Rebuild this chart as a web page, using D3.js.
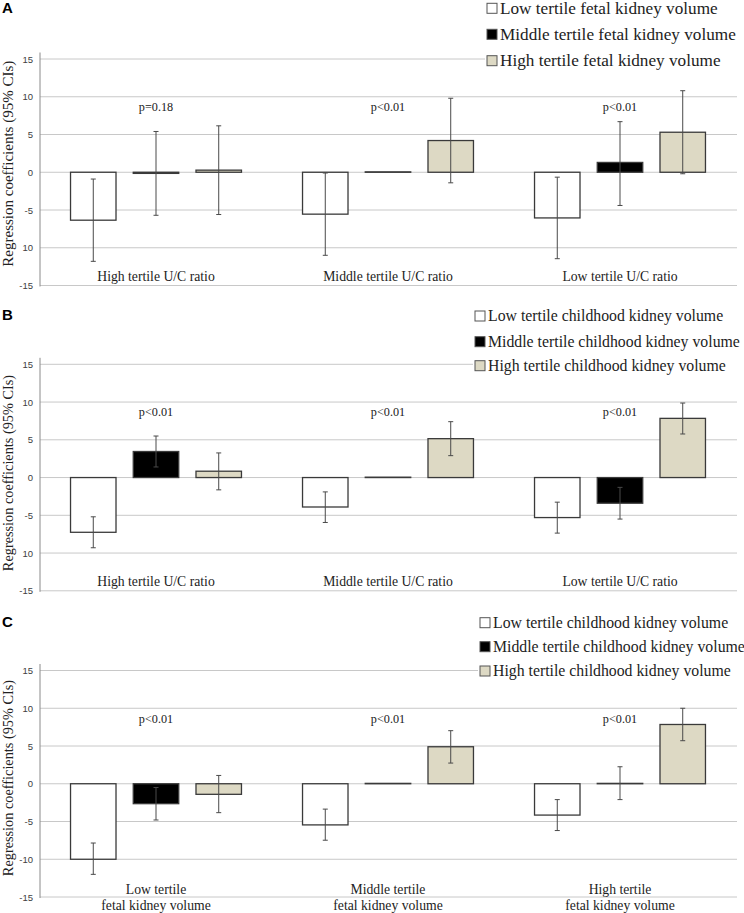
<!DOCTYPE html>
<html><head><meta charset="utf-8">
<script src="https://cdn.jsdelivr.net/npm/d3@7"></script>
<style>body{margin:0;background:#fff}svg{display:block}</style>
</head><body>
<svg id="chart" width="744" height="913"></svg>
<script>
// ---------- DATA ----------
const seriesKeys = ["low", "mid", "high"];
const yTicks = [15, 10, 5, 0, -5, -10, -15];
const tickLabelsA = ["15", "10", "5", "0", "-5", "10", "-15"];
const tickLabelsB = ["15", "10", "5", "0", "-5", "10", "-15"];
const tickLabelsC = ["15", "10", "5", "0", "-5", "-10", "-15"];

const catsA = ["High tertile U/C ratio", "Middle tertile U/C ratio", "Low tertile U/C ratio"];
const catsB = ["High tertile U/C ratio", "Middle tertile U/C ratio", "Low tertile U/C ratio"];
const catsC = ["Low tertile|fetal kidney volume", "Middle tertile|fetal kidney volume", "High tertile|fetal kidney volume"];

const legendA = ["Low tertile fetal kidney volume", "Middle tertile fetal kidney volume", "High tertile fetal kidney volume"];
const legendB = ["Low tertile childhood kidney volume", "Middle tertile childhood kidney volume", "High tertile childhood kidney volume"];
const legendC = ["Low tertile childhood kidney volume", "Middle tertile childhood kidney volume", "High tertile childhood kidney volume"];

const pA = ["p=0.18", "p<0.01", "p<0.01"];
const pB = ["p<0.01", "p<0.01", "p<0.01"];
const pC = ["p<0.01", "p<0.01", "p<0.01"];

// values per series (one value per category)
const A_low  = [-6.35, -5.55, -6.05];
const A_mid  = [-0.15, 0.05, 1.3];
const A_high = [0.28, 4.2, 5.3];
const A_low_ci  = [[-11.8, -0.9], [-11.0, -0.1], [-11.45, -0.65]];
const A_mid_ci  = [[-5.7, 5.4], null, [-4.4, 6.7]];
const A_high_ci = [[-5.6, 6.15], [-1.4, 9.8], [-0.2, 10.8]];

const B_low  = [-7.25, -3.9, -5.3];
const B_mid  = [3.45, 0.05, -3.4];
const B_high = [0.84, 5.15, 7.84];
const B_low_ci  = [[-9.3, -5.2], [-5.95, -1.9], [-7.36, -3.26]];
const B_mid_ci  = [[1.4, 5.5], null, [-5.5, -1.3]];
const B_high_ci = [[-1.63, 3.26], [2.9, 7.4], [5.77, 9.87]];

const C_low  = [-10.0, -5.45, -4.15];
const C_mid  = [-2.64, 0.05, 0.05];
const C_high = [-1.4, 4.9, 7.85];
const C_low_ci  = [[-12.0, -7.85], [-7.48, -3.36], [-6.2, -2.1]];
const C_mid_ci  = [[-4.8, -0.5], null, [-2.1, 2.25]];
const C_high_ci = [[-3.83, 1.1], [2.74, 7.03], [5.7, 10.0]];

// ---------- STYLE / LAYOUT ----------
const fills = { low: "#ffffff", mid: "#000000", high: "#ddd9c4" };
const svg = d3.select("#chart");
const serif = "'Liberation Serif','Times New Roman',serif";
const sans = "'Liberation Sans',Arial,sans-serif";

const panels = [
  { letter: "A", letterY: 13, top: 59, cats: catsA, tl: tickLabelsA, legend: legendA, p: pA,
    vals: { low: A_low, mid: A_mid, high: A_high }, ci: { low: A_low_ci, mid: A_mid_ci, high: A_high_ci },
    legX: 487, legYs: [8.3, 34.3, 60.7], legFont: 17.2, titleFont: 15, titleY: 163.7 },
  { letter: "B", letterY: 320, top: 364.3, cats: catsB, tl: tickLabelsB, legend: legendB, p: pB,
    vals: { low: B_low, mid: B_mid, high: B_high }, ci: { low: B_low_ci, mid: B_mid_ci, high: B_high_ci },
    legX: 475, legYs: [316, 341.7, 365.7], legFont: 15.8, titleFont: 14.3, titleY: 473 },
  { letter: "C", letterY: 627, top: 670.5, cats: catsC, tl: tickLabelsC, legend: legendC, p: pC,
    vals: { low: C_low, mid: C_mid, high: C_high }, ci: { low: C_low_ci, mid: C_mid_ci, high: C_high_ci },
    legX: 480, legYs: [622.7, 646.7, 671], legFont: 15.8, titleFont: 14.3, titleY: 778 }
];

const plotLeft = 40, plotRight = 736, panelH = 226.5;

panels.forEach(P => {
  const g = svg.append("g");
  const y = d3.scaleLinear().domain([-15, 15]).range([P.top + panelH, P.top]);
  const x0 = d3.scaleBand().domain(P.cats).range([plotLeft, plotRight]);
  const half = 94.1;
  const x1 = d3.scaleBand().domain(seriesKeys)
    .range([x0.bandwidth() / 2 - half, x0.bandwidth() / 2 + half])
    .paddingInner(0.275).paddingOuter(0.1375);

  // gridlines
  g.append("g").selectAll("line").data(yTicks).join("line")
    .attr("x1", plotLeft).attr("x2", plotRight + 1)
    .attr("y1", d => y(d)).attr("y2", d => y(d))
    .attr("stroke", "#c8c8c8").attr("stroke-width", 1);

  // bars
  const rows = [];
  P.cats.forEach((c, i) => seriesKeys.forEach(k => rows.push({ c, k, v: P.vals[k][i], ci: P.ci[k][i] })));
  g.append("g").selectAll("rect").data(rows).join("rect")
    .attr("x", d => x0(d.c) + x1(d.k))
    .attr("width", x1.bandwidth())
    .attr("y", d => y(Math.max(0, d.v)))
    .attr("height", d => Math.abs(y(d.v) - y(0)))
    .attr("fill", d => fills[d.k])
    .attr("stroke", "#3a3a3a").attr("stroke-width", 1.3);

  // error bars
  const eb = g.append("g").attr("stroke", "#4a4a4a").attr("stroke-width", 1);
  rows.filter(d => d.ci).forEach(d => {
    const cx = x0(d.c) + x1(d.k) + x1.bandwidth() / 2;
    eb.append("line").attr("x1", cx).attr("x2", cx).attr("y1", y(d.ci[0])).attr("y2", y(d.ci[1]));
    [d.ci[0], d.ci[1]].forEach(v => eb.append("line")
      .attr("x1", cx - 2.5).attr("x2", cx + 2.5).attr("y1", y(v)).attr("y2", y(v)));
  });

  // y axis
  const ax = g.append("g").attr("transform", `translate(${plotLeft},0)`)
    .call(d3.axisLeft(y).tickValues(yTicks).tickSize(0).tickPadding(7)
      .tickFormat((d, i) => P.tl[i]));
  ax.select(".domain").remove();
  ax.selectAll("text").attr("font-family", sans).attr("font-size", 9.5).attr("fill", "#404040");
  g.append("line").attr("x1", plotLeft).attr("x2", plotLeft)
    .attr("y1", y(15) - 6.5).attr("y2", y(-15) + 1)
    .attr("stroke", "#8a8a8a").attr("stroke-width", 1);

  // p-values
  g.append("g").selectAll("text").data(P.cats).join("text")
    .attr("x", d => x0(d) + x0.bandwidth() / 2)
    .attr("y", y(8.1))
    .attr("text-anchor", "middle").attr("font-family", serif).attr("font-size", 12.2).attr("fill", "#222")
    .text((d, i) => P.p[i]);

  // category labels
  const cl = g.append("g").selectAll("text").data(P.cats).join("text")
    .attr("x", d => x0(d) + x0.bandwidth() / 2)
    .attr("y", d => d.includes("|") ? y(0) + 110 : y(0) + 108.5)
    .attr("text-anchor", "middle").attr("font-family", serif).attr("font-size", 13.7).attr("fill", "#222");
  cl.each(function (d) {
    const parts = d.split("|");
    d3.select(this).selectAll("tspan").data(parts).join("tspan")
      .attr("x", x0(d) + x0.bandwidth() / 2)
      .attr("dy", (p, j) => j === 0 ? 0 : 16.5)
      .text(p => p);
  });

  // y title
  g.append("text")
    .attr("transform", `translate(12.5,${P.titleY}) rotate(-90)`)
    .attr("text-anchor", "middle").attr("font-family", serif).attr("font-size", P.titleFont).attr("fill", "#222")
    .text("Regression coefficients (95% CIs)");

  // panel letter
  g.append("text").attr("x", 2).attr("y", P.letterY)
    .attr("font-family", sans).attr("font-weight", "bold").attr("font-size", 15).attr("fill", "#000")
    .text(P.letter);

  // legend
  const lg = g.append("g");
  lg.append("rect").attr("x", P.legX - 2).attr("y", P.legYs[0] - 12)
    .attr("width", 744 - P.legX + 2).attr("height", P.legYs[2] - P.legYs[0] + 22).attr("fill", "#fff");
  const items = lg.selectAll("g").data(seriesKeys).join("g");
  items.append("rect")
    .attr("x", P.legX).attr("y", (k, i) => P.legYs[i] - 5).attr("width", 10).attr("height", 10)
    .attr("fill", k => fills[k]).attr("stroke", "#555").attr("stroke-width", 1);
  items.append("text")
    .attr("x", P.legX + 13).attr("y", (k, i) => P.legYs[i] + P.legFont * 0.33)
    .attr("font-family", serif).attr("font-size", P.legFont).attr("fill", "#222")
    .text((k, i) => P.legend[i]);
});
</script>
</body></html>
